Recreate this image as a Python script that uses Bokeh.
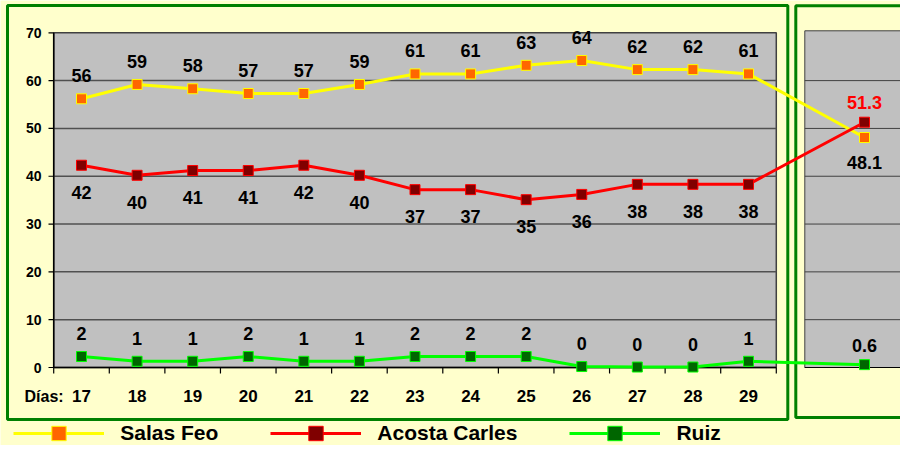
from bokeh.plotting import figure
from bokeh.models import ColumnDataSource, Range1d, Legend, LegendItem
from bokeh.core.properties import value
from bokeh.embed import file_html
from bokeh.resources import INLINE

# ---------------- data ----------------
days = [17, 18, 19, 20, 21, 22, 23, 24, 25, 26, 27, 28, 29]
salas_feo = [56.2, 59.2, 58.3, 57.3, 57.3, 59.2, 61.4, 61.4, 63.2, 64.2, 62.3, 62.3, 61.4]
acosta_carles = [42.3, 40.2, 41.2, 41.2, 42.3, 40.2, 37.2, 37.2, 35.1, 36.2, 38.3, 38.3, 38.3]
ruiz = [2.3, 1.3, 1.3, 2.3, 1.3, 1.3, 2.3, 2.3, 2.3, 0.2, 0.1, 0.1, 1.3]
result_salas_feo = 48.1
result_acosta_carles = 51.3
result_ruiz = 0.6
series_names = ["Salas Feo", "Acosta Carles", "Ruiz"]
y_ticks = [0, 10, 20, 30, 40, 50, 60, 70]
x_title = "Días:"

# ---------------- layout (pixels of the picture) ----------------
W, H = 900, 445
DAY_A_PX, DAY_B_PX = 81.0, 748.0
Y0_PX, YTOP_PX = 367.0, 32.3
sx = (DAY_B_PX - DAY_A_PX) / (days[-1] - days[0])
sy = (Y0_PX - YTOP_PX) / y_ticks[-1]
x_start = days[0] - DAY_A_PX / sx
x_end = x_start + W / sx
y_start = -(H - Y0_PX) / sy
y_end = y_ticks[-1] + YTOP_PX / sy


def X(px):
    return x_start + px / sx


def Y(py):
    return y_start + (H - py) / sy


RESULT_X = X(864)
FONT = value("Liberation Sans")
BG = "#FFFFCC"
FRAME = "#008000"

p = figure(width=W, height=H, x_range=Range1d(x_start, x_end), y_range=Range1d(y_start, y_end),
           output_backend="svg", toolbar_location=None, min_border=0,
           x_axis_type=None, y_axis_type=None,
           background_fill_color=BG, border_fill_color=BG, outline_line_color=None)

# frames
p.quad(left=[X(7)], right=[X(787.3)], top=[Y(5)], bottom=[Y(419)],
       fill_color=None, line_color=FRAME, line_width=3)
p.quad(left=[X(795.3)], right=[X(940)], top=[Y(5.3)], bottom=[Y(417)],
       fill_color=None, line_color=FRAME, line_width=3)

# plot panels
left_edge = days[0] - 0.5
right_edge = days[-1] + 0.5
p.quad(left=[left_edge], right=[right_edge], top=[y_ticks[-1]], bottom=[0],
       fill_color="#C0C0C0", line_color="#404040", line_width=1.5)
rp_left = X(804.3)
rp_right = X(940)
p.quad(left=[rp_left], right=[rp_right], top=[Y(30.3)], bottom=[0],
       fill_color="#C0C0C0", line_color="#404040", line_width=1)

grid = y_ticks[1:-1]
p.segment(x0=[left_edge] * len(grid), x1=[right_edge] * len(grid), y0=grid, y1=grid,
          line_color="#505050", line_width=1.5)
p.segment(x0=[rp_left] * len(grid), x1=[rp_right] * len(grid), y0=grid, y1=grid,
          line_color="#404040", line_width=1)
p.segment(x0=[rp_left], x1=[rp_right], y0=[0], y1=[0], line_color="black", line_width=1.2)

# axes
p.segment(x0=[left_edge], x1=[left_edge], y0=[0], y1=[y_ticks[-1]], line_color="black", line_width=1.5)
p.segment(x0=[X(48)] * len(y_ticks), x1=[left_edge] * len(y_ticks), y0=y_ticks, y1=y_ticks,
          line_color="black", line_width=1.2)
p.segment(x0=[left_edge], x1=[right_edge], y0=[0], y1=[0], line_color="black", line_width=1.5)
bounds = [d - 0.5 for d in days] + [right_edge]
p.segment(x0=bounds, x1=bounds, y0=[0] * len(bounds), y1=[Y(373)] * len(bounds),
          line_color="black", line_width=1.2)

p.text(x=[X(41)] * len(y_ticks), y=y_ticks, text=[str(t) for t in y_ticks],
       text_align="right", text_baseline="middle", text_font=FONT,
       text_font_size="14px", text_font_style="bold", text_color="black")
p.text(x=days, y=[Y(395.5)] * len(days), text=[str(d) for d in days],
       text_align="center", text_baseline="middle", text_font=FONT,
       text_font_size="17px", text_font_style="bold", text_color="black")
p.text(x=[X(24)], y=[Y(395.5)], text=[x_title], text_align="left", text_baseline="middle",
       text_font=FONT, text_font_size="16px", text_font_style="bold", text_color="black")

# series
styles = [
    dict(vals=salas_feo, res=result_salas_feo, line="#FFFF00", fill="#FF6600", off=-23, res_off=25, res_col="black"),
    dict(vals=acosta_carles, res=result_acosta_carles, line="#FF0000", fill="#800000", off=27, res_off=-20, res_col="#FF0000"),
    dict(vals=ruiz, res=result_ruiz, line="#00FF00", fill="#006600", off=-23, res_off=-19, res_col="black"),
]

legend_items = []
for name, st in zip(series_names, styles):
    xs = days + [RESULT_X]
    ys = st["vals"] + [st["res"]]
    p.line(xs, ys, line_color=st["line"], line_width=3)
    p.scatter(xs, ys, marker="square", size=10, fill_color=st["fill"], line_color=st["line"], line_width=1)
    p.text(x=days, y=st["vals"], text=["%.0f" % v for v in st["vals"]], y_offset=st["off"],
           text_align="center", text_baseline="middle", text_font=FONT,
           text_font_size="18px", text_font_style="bold", text_color="black")
    p.text(x=[RESULT_X], y=[st["res"]], text=["%.1f" % st["res"]], y_offset=st["res_off"],
           text_align="center", text_baseline="middle", text_font=FONT,
           text_font_size="18px", text_font_style="bold", text_color=st["res_col"])
    # legend-only renderers (points placed outside the visible range)
    off = ColumnDataSource(data=dict(x=[x_end + 50, x_end + 60], y=[0, 0]))
    lr = p.line("x", "y", source=off, line_color=st["line"], line_width=3)
    sr = p.scatter("x", "y", source=off, marker="square", size=14,
                   fill_color=st["fill"], line_color=st["line"], line_width=1)
    legend_items.append(LegendItem(label=name, renderers=[lr, sr]))

legend = Legend(items=legend_items, orientation="horizontal", location=(13.3, -6),
                glyph_width=91, glyph_height=36, label_standoff=16, spacing=52,
                padding=0, margin=0, border_line_color=None, background_fill_alpha=0,
                label_text_font="Liberation Sans", label_text_font_size="21px",
                label_text_font_style="bold", label_text_color="black")
p.add_layout(legend)

open("out.html", "w").write(file_html(p, INLINE))
